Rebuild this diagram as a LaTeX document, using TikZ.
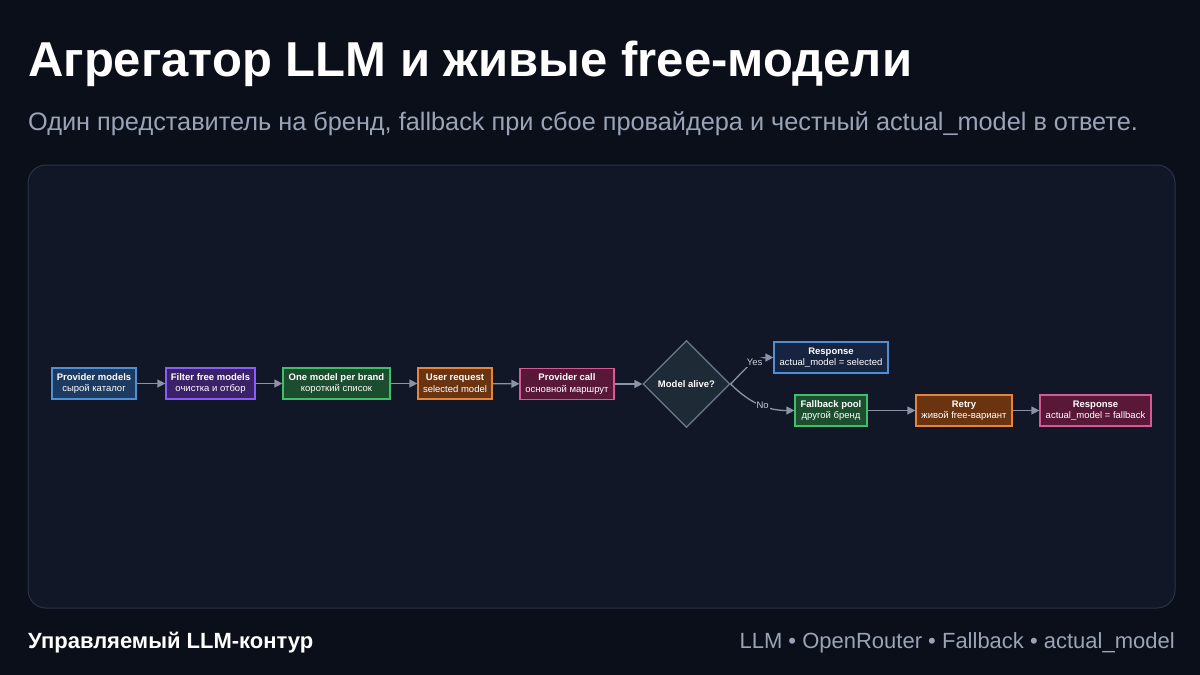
\documentclass[tikz,border=0pt]{standalone}
\usepackage{fontspec}
\setmainfont{Liberation Sans}
\usetikzlibrary{shapes.geometric,arrows.meta}
\definecolor{bg}{HTML}{0B0F19}
\definecolor{panel}{HTML}{111726}
\definecolor{panelborder}{HTML}{2A3345}
\definecolor{subgray}{HTML}{9AA4B6}
\definecolor{edgegray}{HTML}{8A94A6}
\definecolor{lblgray}{HTML}{C8CED8}
\definecolor{bluefill}{HTML}{1D3A60}
\definecolor{bluedraw}{HTML}{4F8FD6}
\definecolor{navyfill}{HTML}{16243F}
\definecolor{purplefill}{HTML}{3B2168}
\definecolor{purpledraw}{HTML}{8B5CF6}
\definecolor{greenfill}{HTML}{1B4D2E}
\definecolor{greendraw}{HTML}{3FBF6A}
\definecolor{orangefill}{HTML}{6B3410}
\definecolor{orangedraw}{HTML}{E8833A}
\definecolor{maroonfill}{HTML}{5A1838}
\definecolor{maroondraw}{HTML}{D45A94}
\definecolor{diafill}{HTML}{1F2A37}
\definecolor{diadraw}{HTML}{6B7A8C}
\tikzset{
  box/.style={rectangle, line width=1.2pt, text=white, align=center, inner sep=2pt,
    minimum height=31pt, font=\fontsize{9.5}{11.5}\selectfont},
  dia/.style={diamond, aspect=1, line width=1.2pt, fill=diafill, draw=diadraw, text=white,
    minimum width=87pt, minimum height=87pt, inner sep=0pt, font=\fontsize{9.5}{11.5}\selectfont\bfseries},
  arr/.style={draw=edgegray, line width=1.3pt, -{Triangle[length=8pt,width=8pt]}},
  lbl/.style={fill=panel, text=lblgray, inner sep=1pt, font=\fontsize{9.5}{11}\selectfont}
}
\begin{document}
\begin{tikzpicture}[x=1pt,y=-1pt]
\useasboundingbox[fill=bg] (0,0) rectangle (1200,675);
\draw[fill=panel, draw=panelborder, line width=1pt, rounded corners=18pt] (28,165) rectangle (1175,608);

\node[anchor=base west, inner sep=0pt, text=white, font=\fontsize{49}{54}\selectfont\bfseries] (title) at (28,76) {Агрегатор LLM и живые free-модели};
\node[anchor=base west, inner sep=0pt, text=subgray, font=\fontsize{25.3}{28}\selectfont] (sub) at (28,130) {Один представитель на бренд, fallback при сбое провайдера и честный actual\_model в ответе.};

\node[anchor=base west, inner sep=0pt, text=white, font=\fontsize{22}{26}\selectfont\bfseries] (footl) at (28,648) {Управляемый LLM-контур};
\node[anchor=base east, inner sep=0pt, text=subgray, font=\fontsize{22}{26}\selectfont] (footr) at (1175,648) {LLM • OpenRouter • Fallback • actual\_model};

\node[box, fill=bluefill, draw=bluedraw, minimum width=84pt] (pm) at (94,383.5) {\textbf{Provider models}\\сырой каталог};
\node[box, fill=purplefill, draw=purpledraw, minimum width=89pt] (ff) at (210.5,383.5) {\textbf{Filter free models}\\очистка и отбор};
\node[box, fill=greenfill, draw=greendraw, minimum width=107pt] (om) at (336.5,383.5) {\textbf{One model per brand}\\короткий список};
\node[box, fill=orangefill, draw=orangedraw, minimum width=74pt] (ur) at (455,383.5) {\textbf{User request}\\selected model};
\node[box, fill=maroonfill, draw=maroondraw, minimum width=94pt] (pc) at (567,384) {\textbf{Provider call}\\основной маршрут};
\node[dia] (ma) at (686.5,384) {Model alive?};
\node[box, fill=navyfill, draw=bluedraw, minimum width=114pt] (r1) at (831,357.5) {\textbf{Response}\\actual\_model = selected};
\node[box, fill=greenfill, draw=greendraw, minimum width=72pt] (fp) at (831,410.5) {\textbf{Fallback pool}\\другой бренд};
\node[box, fill=orangefill, draw=orangedraw, minimum width=96pt] (rt) at (964,410.5) {\textbf{Retry}\\живой free-вариант};
\node[box, fill=maroonfill, draw=maroondraw, minimum width=111pt] (r2) at (1095.5,410.5) {\textbf{Response}\\actual\_model = fallback};

\draw[arr] (pm) -- (ff);
\draw[arr] (ff) -- (om);
\draw[arr] (om) -- (ur);
\draw[arr] (ur) -- (pc);
\draw[arr] (pc) -- (ma);
\draw[arr] (ma.east) to[out=45,in=180] node[lbl, pos=0.62] {Yes} (r1.west);
\draw[arr] (ma.east) to[out=-45,in=180] node[lbl, pos=0.55] {No} (fp.west);
\draw[arr] (fp) -- (rt);
\draw[arr] (rt) -- (r2);
\end{tikzpicture}
\end{document}
